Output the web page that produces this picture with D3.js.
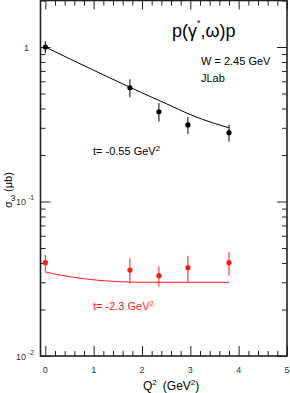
<!DOCTYPE html>
<html><head><meta charset="utf-8">
<script src="https://cdn.jsdelivr.net/npm/d3@7"></script>
<style>
html,body{margin:0;padding:0;background:#fff;}
svg{display:block;font-family:"Liberation Sans",Arial,Helvetica,sans-serif;}
</style></head>
<body>
<svg id="c" width="290" height="393"></svg>
<script>
// ---- data ----
const q2 = [0, 1.75, 2.35, 2.95, 3.8];
const sigBlack = [1.0, 0.545, 0.381, 0.313, 0.279];
const errBlack = [0.09, 0.073, 0.052, 0.04, 0.035];
const sigRed = [0.0402, 0.0360, 0.0331, 0.0373, 0.0402];
const errRed = [0.005, 0.0068, 0.005, 0.0072, 0.007];
const curveQ2Black = [0, 0.5, 1, 1.5, 2, 2.5, 3, 3.5, 3.8];
const curveBlack = [1.0, 0.84, 0.707, 0.597, 0.505, 0.43, 0.365, 0.32, 0.30];
const curveQ2Red = [0, 0.25, 0.5, 1, 1.5, 1.75, 2, 3, 3.8];
const curveRed = [0.035, 0.0336, 0.0326, 0.0311, 0.0303, 0.0301, 0.0300, 0.0300, 0.0300];
const xMajorTicks = [0, 1, 2, 3, 4, 5];
const yMajorTicks = [1, 0.1, 0.01];
const yTickLabels = [["1", ""], ["10", "-1"], ["10", "-2"]];

// ---- layout ----
const L = 40.5, R = 287, T = 0.5, B = 356;
const svg = d3.select("#c");
const x = d3.scaleLinear().domain([-0.1, 5]).range([L, R]);
const y = d3.scaleLog().domain([0.01, 2]).range([B, T]);

const xMinor = d3.range(0, 5.0001, 0.2).map(v => +v.toFixed(2)).filter(v => Math.abs(v - Math.round(v)) > 1e-6);
const yMinor = [];
[0.01, 0.1, 1].forEach(d => { for (let k = 2; k <= 9; k++) { const v = d * k; if (v <= 2) yMinor.push(v); } });

const axisColor = "#222";
function styleAxis(g) {
  g.select(".domain").remove();
  g.selectAll("line").attr("stroke", axisColor).attr("stroke-width", 1);
  g.selectAll("text").remove();
}
// bottom
svg.append("g").attr("transform", `translate(0,${B})`).call(d3.axisBottom(x).tickValues(xMajorTicks).tickSize(-10)).call(styleAxis);
svg.append("g").attr("transform", `translate(0,${B})`).call(d3.axisBottom(x).tickValues(xMinor).tickSize(-5)).call(styleAxis);
// top
svg.append("g").attr("transform", `translate(0,${T})`).call(d3.axisTop(x).tickValues(xMajorTicks).tickSize(-9)).call(styleAxis);
svg.append("g").attr("transform", `translate(0,${T})`).call(d3.axisTop(x).tickValues(xMinor).tickSize(-5)).call(styleAxis);
// left
svg.append("g").attr("transform", `translate(${L},0)`).call(d3.axisLeft(y).tickValues(yMajorTicks).tickSize(-10)).call(styleAxis);
svg.append("g").attr("transform", `translate(${L},0)`).call(d3.axisLeft(y).tickValues(yMinor).tickSize(-5)).call(styleAxis);
// right
svg.append("g").attr("transform", `translate(${R},0)`).call(d3.axisRight(y).tickValues(yMajorTicks).tickSize(-10)).call(styleAxis);
svg.append("g").attr("transform", `translate(${R},0)`).call(d3.axisRight(y).tickValues(yMinor).tickSize(-5)).call(styleAxis);

// frame
svg.append("rect").attr("x", L).attr("y", T).attr("width", R - L).attr("height", B - T)
  .attr("fill", "none").attr("stroke", axisColor).attr("stroke-width", 1.6);

// x tick labels
svg.append("g").selectAll("text").data(xMajorTicks).join("text")
  .attr("x", d => x(d)).attr("y", B + 17).attr("text-anchor", "middle")
  .attr("font-size", 9).attr("fill", "#333").text(d => d);

// y tick labels
const yl = svg.append("g");
yMajorTicks.forEach((v, i) => {
  const [base, sup] = yTickLabels[i];
  const t = yl.append("text").attr("y", y(v) + 3.5).attr("font-size", 9).attr("fill", "#333");
  if (sup) {
    t.attr("x", 16);
    t.append("tspan").text(base);
    t.append("tspan").attr("dx", 2).attr("dy", -5).attr("font-size", 7).text(sup);
  } else {
    t.attr("x", 24).text(base);
  }
});

// curves
const line = d3.line().x(d => x(d[0])).y(d => y(d[1])).curve(d3.curveMonotoneX);
svg.append("path").datum(curveQ2Black.map((q, i) => [q, curveBlack[i]]))
  .attr("d", line).attr("fill", "none").attr("stroke", "#000").attr("stroke-width", 1);
svg.append("path").datum(curveQ2Red.map((q, i) => [q, curveRed[i]]))
  .attr("d", line).attr("fill", "none").attr("stroke", "#ff1a1a").attr("stroke-width", 1);

// points with error bars
function drawPoints(vals, errs, color) {
  const g = svg.append("g");
  g.selectAll("line").data(q2).join("line")
    .attr("x1", d => x(d)).attr("x2", d => x(d))
    .attr("y1", (d, i) => y(vals[i] + errs[i])).attr("y2", (d, i) => y(vals[i] - errs[i]))
    .attr("stroke", color).attr("stroke-width", 1);
  g.selectAll("circle").data(q2).join("circle")
    .attr("cx", d => x(d)).attr("cy", (d, i) => y(vals[i])).attr("r", 2.6).attr("fill", color);
}
drawPoints(sigBlack, errBlack, "#000");
drawPoints(sigRed, errRed, "#ff1a1a");

// texts
const title = svg.append("text").attr("x", 172).attr("y", 37).attr("font-size", 18).attr("fill", "#000");
title.append("tspan").text("p(γ");
title.append("tspan").attr("dy", -11).attr("font-size", 9).text("*");
title.append("tspan").attr("dy", 11).text(",ω)p");

svg.append("text").attr("x", 201).attr("y", 65).attr("font-size", 11).text("W = 2.45 GeV");
svg.append("text").attr("x", 201).attr("y", 82).attr("font-size", 11).text("JLab");

const t1 = svg.append("text").attr("x", 93).attr("y", 155).attr("font-size", 11).attr("fill", "#000");
t1.append("tspan").text("t= -0.55 GeV");
t1.append("tspan").attr("dy", -4).attr("font-size", 8).text("2");

const t2 = svg.append("text").attr("x", 93).attr("y", 310).attr("font-size", 11).attr("fill", "#ff1a1a");
t2.append("tspan").text("t= -2.3 GeV");
t2.append("tspan").attr("dy", -4).attr("font-size", 8).text("2");

// x axis title
const xt = svg.append("text").attr("x", 143).attr("y", 390).attr("font-size", 12).attr("fill", "#000");
xt.append("tspan").text("Q");
xt.append("tspan").attr("dy", -5).attr("font-size", 8).text("2");
xt.append("tspan").attr("dy", 5).attr("dx", 6).text("(GeV");
xt.append("tspan").attr("dy", -5).attr("font-size", 8).text("2");
xt.append("tspan").attr("dy", 5).text(")");

// y axis title
const yt = svg.append("text").attr("transform", "translate(12,208) rotate(-90)").attr("font-size", 11).attr("fill", "#000");
yt.append("tspan").text("σ");
yt.append("tspan").attr("dy", 3).attr("font-size", 8).text("ω");
yt.append("tspan").attr("dy", -3).attr("dx", 3).text("(μb)");
</script>
</body></html>
